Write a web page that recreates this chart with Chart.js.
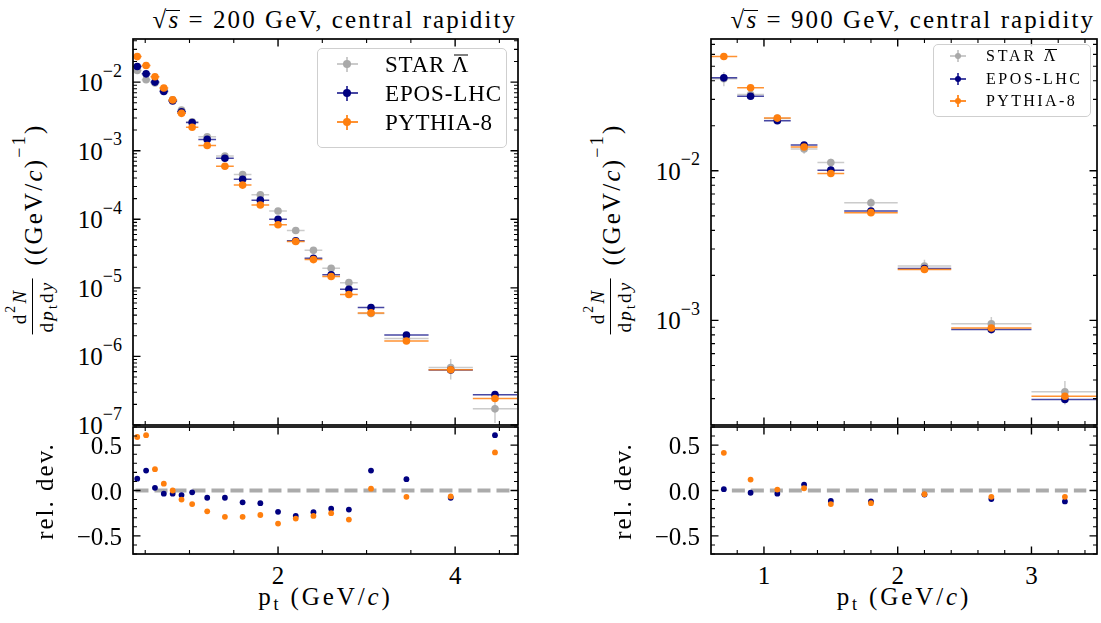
<!DOCTYPE html>
<html>
<head>
<meta charset="utf-8">
<script src="https://cdn.jsdelivr.net/npm/chart.js"></script>
<style>
  body { margin: 0; background: #fff; }
  #fig { position: relative; width: 1101px; height: 623px; overflow: hidden; background: #fff; }
  #fig canvas { position: absolute; }
  .t { position: absolute; white-space: nowrap; line-height: 1; font-size: 25px; color: #000;
       font-family: "Liberation Serif", "Times New Roman", serif; }
  .t sup { font-size: 0.72em; position: relative; top: -0.8em; vertical-align: baseline; line-height: 0; }
  .t sub { font-size: 0.72em; position: relative; top: 0.3em; vertical-align: baseline; line-height: 0; }
  .ovl { position: relative; }
  .ovl::before { content: ''; position: absolute; left: 10%; right: 10%; top: 0.12em; border-top: 1.2px solid #000; }
  .ovs { position: relative; font-style: italic; }
  .ovs::before { content: ''; position: absolute; left: -2px; right: 0; top: 0.14em; border-top: 1.3px solid #000; }
  .frac { display: inline-flex; flex-direction: column; align-items: stretch; text-align: center;
          vertical-align: middle; font-size: 19px; margin-right: 13px; }
  .frac .num { padding: 0 2px 3px; border-bottom: 1.6px solid #000; }
  .frac .den { padding: 4px 2px 0; }
  .lgbox { position: absolute; border: 1.6px solid #cfcfcf; border-radius: 5px; background: rgba(255,255,255,0.85); box-sizing: border-box; }
  .mk { position: absolute; }
  .mk div { position: absolute; }
</style>
</head>
<body>
<div id="fig"></div>
<script>
// sqrt(s) = 200 GeV
const ptL = [0.41, 0.51, 0.61, 0.71, 0.81, 0.91, 1.03, 1.2, 1.4, 1.6, 1.8, 2.0, 2.2, 2.4, 2.6, 2.8, 3.05, 3.45, 3.95, 4.45];
const binLoL = [0.36, 0.46, 0.56, 0.66, 0.76, 0.86, 0.96, 1.1, 1.3, 1.5, 1.7, 1.9, 2.1, 2.3, 2.5, 2.7, 2.9, 3.2, 3.7, 4.2];
const binHiL = [0.46, 0.56, 0.66, 0.76, 0.86, 0.96, 1.1, 1.3, 1.5, 1.7, 1.9, 2.1, 2.3, 2.5, 2.7, 2.9, 3.2, 3.7, 4.2, 4.7];
const starL = [0.01475, 0.0108, 0.0097, 0.00758, 0.0055, 0.0039, 0.00263, 0.0016, 0.000837, 0.000449, 0.000228, 0.000132,
               6.86e-5, 3.52e-5, 1.93e-5, 1.19e-5, 4.22e-6, 1.82e-6, 6.9e-7, 1.72e-7];
const eposL = [0.01687, 0.0132, 0.0100, 0.00732, 0.0053, 0.0037, 0.00258, 0.00146, 0.000775, 0.000384, 0.00019, 0.0001,
               4.85e-5, 2.7e-5, 1.55e-5, 9.5e-6, 5.15e-6, 2.05e-6, 6.35e-7, 2.77e-7];
const pythiaL = [0.02355, 0.01746, 0.01195, 0.00819, 0.0055, 0.0035, 0.0022, 0.00119, 0.000593, 0.000315, 0.000161, 8.3e-5,
                 4.75e-5, 2.58e-5, 1.46e-5, 8.0e-6, 4.31e-6, 1.68e-6, 6.38e-7, 2.43e-7];
const starErrL = [0.1, 0.08, 0.07, 0.06, 0.06, 0.06, 0.06, 0.06, 0.06, 0.06, 0.07, 0.07, 0.08, 0.08, 0.09, 0.1, 0.12, 0.15, 0.33, 0.38];
const eposErrL = [0.02, 0.02, 0.02, 0.02, 0.02, 0.02, 0.02, 0.02, 0.02, 0.02, 0.02, 0.03, 0.03, 0.03, 0.03, 0.04, 0.04, 0.05, 0.06, 0.08];
const pythiaErrL = [0.02, 0.02, 0.02, 0.02, 0.02, 0.02, 0.02, 0.02, 0.02, 0.02, 0.02, 0.03, 0.03, 0.03, 0.03, 0.04, 0.04, 0.05, 0.06, 0.08];
const eposRelL = [0.13, 0.22, 0.03, -0.035, -0.035, -0.05, -0.02, -0.08, -0.08, -0.13, -0.14, -0.235, -0.28, -0.24, -0.2, -0.21, 0.22, 0.125, -0.08, 0.61];
const pythiaRelL = [0.59, 0.61, 0.235, 0.075, 0.0, -0.1, -0.15, -0.23, -0.29, -0.29, -0.27, -0.365, -0.31, -0.28, -0.25, -0.32, 0.02, -0.07, -0.065, 0.42];
const zeroL = [0.39, 4.67];
const xRangeL = [0.362, 4.71];
const yRangeL = [1e-7, 0.0425];
const xMajorL = [2, 4];
const xMinorL = [0.5, 1, 1.5, 2.5, 3, 3.5, 4.5];

// sqrt(s) = 900 GeV
const ptR = [0.7, 0.9, 1.1, 1.3, 1.5, 1.8, 2.2, 2.7, 3.25];
const binLoR = [0.6, 0.8, 1.0, 1.2, 1.4, 1.6, 2.0, 2.4, 3.0];
const binHiR = [0.8, 1.0, 1.2, 1.4, 1.6, 2.0, 2.4, 3.0, 3.5];
const starR = [0.0412, 0.0323, 0.0224, 0.0140, 0.01135, 0.00611, 0.00231, 0.000951, 0.000334];
const eposR = [0.0418, 0.0315, 0.0216, 0.01486, 0.0101, 0.00538, 0.00222, 0.000868, 0.000296];
const pythiaR = [0.0581, 0.0359, 0.0225, 0.01442, 0.0096, 0.00525, 0.00219, 0.00089, 0.000311];
const starErrR = [0.11, 0.06, 0.05, 0.07, 0.06, 0.07, 0.1, 0.11, 0.18];
const eposErrR = [0.03, 0.02, 0.02, 0.02, 0.02, 0.02, 0.02, 0.03, 0.03];
const pythiaErrR = [0.02, 0.02, 0.02, 0.02, 0.02, 0.02, 0.02, 0.03, 0.03];
const eposRelR = [0.015, -0.025, -0.035, 0.065, -0.115, -0.12, -0.045, -0.095, -0.12];
const pythiaRelR = [0.415, 0.12, 0.01, 0.025, -0.15, -0.14, -0.04, -0.07, -0.07];
const zeroR = [0.76, 3.41];
const xRangeR = [0.604, 3.49];
const yRangeR = [2.0e-4, 0.076];
const xMajorR = [1, 2, 3];
const xMinorR = [0.8, 1.2, 1.4, 1.6, 1.8, 2.2, 2.4, 2.6, 2.8, 3.2, 3.4];

const relRange = [-0.7, 0.7];
const relMajor = [-0.5, 0, 0.5];
const seriesNames = ['STAR <span class="ovl">\u039B</span>', 'EPOS-LHC', 'PYTHIA-8'];

const STYLE = {
  marker: ['#a9a9a9', '#000080', '#ff7f0e'],
  bar: ['rgba(169,169,169,0.6)', 'rgba(0,0,128,0.72)', 'rgba(255,127,14,0.85)']
};
const PAD = 3;
const fig = document.getElementById('fig');

function logTicks(min, max) {
  const major = [], minor = [];
  for (let d = Math.floor(Math.log10(min)); d <= Math.ceil(Math.log10(max)); d++) {
    for (let m = 1; m < 10; m++) {
      const v = m * Math.pow(10, d);
      if (v < min * 0.999 || v > max * 1.001) continue;
      (m === 1 ? major : minor).push(v);
    }
  }
  return { major, minor };
}
function relMinor() {
  const out = [];
  for (let k = -7; k <= 7; k++) if (k % 5 !== 0) out.push(k / 10);
  return out;
}

// frame, inward ticks on every side, and error bars
const axesFrame = {
  id: 'axesFrame',
  beforeDatasetDraw(chart, args) {
    const ds = chart.data.datasets[args.index];
    if (!ds.xLo) return;
    const { ctx, chartArea: a, scales: { x, y } } = chart;
    ctx.save();
    ctx.beginPath();
    ctx.rect(a.left, a.top, a.right - a.left, a.bottom - a.top);
    ctx.clip();
    ctx.strokeStyle = ds.barColor;
    ctx.lineWidth = 1.5;
    ds.data.forEach((p, i) => {
      const px = x.getPixelForValue(p.x), py = y.getPixelForValue(p.y);
      ctx.beginPath();
      ctx.moveTo(x.getPixelForValue(ds.xLo[i]), py);
      ctx.lineTo(x.getPixelForValue(ds.xHi[i]), py);
      ctx.moveTo(px, y.getPixelForValue(ds.yLo[i]));
      ctx.lineTo(px, y.getPixelForValue(ds.yHi[i]));
      ctx.stroke();
    });
    ctx.restore();
  },
  afterDraw(chart, args, opts) {
    const { ctx, chartArea: a, scales: { x, y } } = chart;
    ctx.save();
    ctx.strokeStyle = '#000';
    const xt = (vals, len, w) => {
      ctx.lineWidth = w;
      ctx.beginPath();
      vals.forEach(v => {
        const p = x.getPixelForValue(v);
        ctx.moveTo(p, a.bottom); ctx.lineTo(p, a.bottom - len);
        ctx.moveTo(p, a.top); ctx.lineTo(p, a.top + len);
      });
      ctx.stroke();
    };
    const yt = (vals, len, w) => {
      ctx.lineWidth = w;
      ctx.beginPath();
      vals.forEach(v => {
        const p = y.getPixelForValue(v);
        ctx.moveTo(a.left, p); ctx.lineTo(a.left + len, p);
        ctx.moveTo(a.right, p); ctx.lineTo(a.right - len, p);
      });
      ctx.stroke();
    };
    xt(opts.xMajor, 7.5, 1.4);
    xt(opts.xMinor, 4, 1.1);
    yt(opts.yMajor, 7.5, 1.4);
    yt(opts.yMinor, 4, 1.1);
    ctx.lineWidth = 1.7;
    ctx.strokeRect(a.left, a.top, a.right - a.left, a.bottom - a.top);
    ctx.restore();
  }
};

function makePanel(x0, x1, y0, y1, datasets, xr, yr, yType, ticks) {
  const W = x1 - x0 + 2 * PAD, H = y1 - y0 + 2 * PAD;
  const cv = document.createElement('canvas');
  cv.width = W; cv.height = H;
  cv.style.left = (x0 - PAD) + 'px';
  cv.style.top = (y0 - PAD) + 'px';
  fig.appendChild(cv);
  const chart = new Chart(cv, {
    type: 'scatter',
    data: { datasets },
    options: {
      responsive: false,
      animation: false,
      events: [],
      layout: { padding: PAD },
      scales: {
        x: { type: 'linear', min: xr[0], max: xr[1], display: false },
        y: { type: yType, min: yr[0], max: yr[1], display: false }
      },
      plugins: { legend: { display: false }, tooltip: { enabled: false }, axesFrame: ticks }
    },
    plugins: [axesFrame]
  });
  chart.offX = x0 - PAD;
  chart.offY = y0 - PAD;
  return chart;
}

function mainSets(pt, lo, hi, series, errs) {
  return series.map((vals, k) => ({
    data: pt.map((x, i) => ({ x, y: vals[i] })),
    order: 3 - k,
    clip: 0,
    pointRadius: 3.8,
    pointBackgroundColor: STYLE.marker[k],
    pointBorderWidth: 0,
    xLo: lo, xHi: hi,
    yLo: vals.map((v, i) => v * (1 - errs[k][i])),
    yHi: vals.map((v, i) => v * (1 + errs[k][i])),
    barColor: STYLE.bar[k]
  }));
}
function relSets(pt, rels, zero) {
  const sets = rels.map((vals, j) => ({
    data: pt.map((x, i) => ({ x, y: vals[i] })),
    order: 2 - j,
    clip: 0,
    pointRadius: 2.9,
    pointBackgroundColor: STYLE.marker[j + 1],
    pointBorderWidth: 0
  }));
  sets.push({
    data: zero.map(x => ({ x, y: 0 })),
    showLine: true, order: 10, clip: 0,
    borderColor: '#ababab', borderWidth: 4, borderDash: [13, 6], borderCapStyle: 'butt',
    pointRadius: 0
  });
  return sets;
}

function text(html, x, y, transform, css) {
  const d = document.createElement('div');
  d.className = 't';
  d.innerHTML = html;
  d.style.left = x + 'px';
  d.style.top = y + 'px';
  if (css) Object.assign(d.style, css);
  d.style.transform = transform || '';
  fig.appendChild(d);
  return d;
}
// spread the letters so the label reaches the width it has in the reference
function spread(el, target) {
  const w = el.offsetWidth;
  const n = el.textContent.length;
  el.style.letterSpacing = ((target - w) / n).toFixed(2) + 'px';
}

const sup = e => '10<sup>\u2212' + Math.abs(e) + '</sup>';
const fmtRel = v => (v < 0 ? '\u2212' : '') + Math.abs(v).toFixed(1);

function drawSide(side) {
  const L = side === 'L';
  const x0 = L ? 132 : 710, x1 = L ? 519 : 1098;
  const pt = L ? ptL : ptR;
  const xr = L ? xRangeL : xRangeR;
  const yr = L ? yRangeL : yRangeR;
  const xMajor = L ? xMajorL : xMajorR, xMinor = L ? xMinorL : xMinorR;
  const lt = logTicks(yr[0], yr[1]);

  const main = makePanel(x0, x1, 38, 426,
    mainSets(pt, L ? binLoL : binLoR, L ? binHiL : binHiR,
      L ? [starL, eposL, pythiaL] : [starR, eposR, pythiaR],
      L ? [starErrL, eposErrL, pythiaErrL] : [starErrR, eposErrR, pythiaErrR]),
    xr, yr, 'logarithmic',
    { xMajor, xMinor, yMajor: lt.major, yMinor: lt.minor });

  const rel = makePanel(x0, x1, 426, 555,
    relSets(pt, L ? [eposRelL, pythiaRelL] : [eposRelR, pythiaRelR], L ? zeroL : zeroR),
    xr, relRange, 'linear',
    { xMajor, xMinor, yMajor: relMajor, yMinor: relMinor() });

  // tick labels
  lt.major.forEach(v => {
    text(sup(Math.round(Math.log10(v))), x0 - 10, main.offY + main.scales.y.getPixelForValue(v), 'translate(-100%,-50%)');
  });
  relMajor.forEach(v => {
    text(fmtRel(v), x0 - 10, rel.offY + rel.scales.y.getPixelForValue(v), 'translate(-100%,-50%)');
  });
  xMajor.forEach(v => {
    text(String(v), rel.offX + rel.scales.x.getPixelForValue(v), 575, 'translate(-50%,-50%)');
  });

  // axis titles
  const cx = (x0 + x1) / 2;
  const xt = text('p<sub>t</sub>&nbsp;(GeV/<i>c</i>)', cx, 596, 'translate(-50%,-50%)');
  spread(xt, 135);
  const rt = text('rel.&nbsp;dev.', x0 - 88, 491, 'translate(-50%,-50%) rotate(-90deg)');
  spread(rt, 98);
  const yl = text('<span class="frac"><span class="num">d<sup>2</sup><i>N</i></span>' +
    '<span class="den">d<i>p</i><sub>t</sub>d<i>y</i></span></span>((GeV/<i>c</i>)<sup>\u22121</sup>)',
    x0 - 99, 229, 'translate(-50%,-50%) rotate(-90deg)', { display: 'flex', alignItems: 'center' });
  spread(yl, 217);

  // title
  const tt = text('\u221A<span class="ovs">s</span> = ' + (L ? '200' : '900') + ' GeV, central rapidity',
    0, 7, '', { right: (1101 - (L ? 517 : 1095)) + 'px', left: 'auto' });
  spread(tt, 364);
}

function legend(bx0, bx1, by0, by1, rows, mx, tx, fs, cw, ch, r, widths) {
  const box = document.createElement('div');
  box.className = 'lgbox';
  Object.assign(box.style, { left: bx0 + 'px', top: by0 + 'px', width: (bx1 - bx0) + 'px', height: (by1 - by0) + 'px' });
  fig.appendChild(box);
  seriesNames.forEach((name, k) => {
    const y = rows[k];
    const m = document.createElement('div');
    m.className = 'mk';
    Object.assign(m.style, { left: (mx - cw / 2) + 'px', top: (y - ch / 2) + 'px', width: cw + 'px', height: ch + 'px' });
    m.innerHTML =
      '<div style="left:0;top:' + (ch / 2 - 0.75) + 'px;width:' + cw + 'px;height:1.5px;background:' + STYLE.bar[k] + '"></div>' +
      '<div style="left:' + (cw / 2 - 0.75) + 'px;top:0;width:1.5px;height:' + ch + 'px;background:' + STYLE.bar[k] + '"></div>' +
      '<div style="left:' + (cw / 2 - r) + 'px;top:' + (ch / 2 - r) + 'px;width:' + (2 * r) + 'px;height:' + (2 * r) + 'px;border-radius:50%;background:' + STYLE.marker[k] + '"></div>';
    fig.appendChild(m);
    const t = text(name, tx, y, 'translateY(-50%)', { fontSize: fs + 'px' });
    spread(t, widths[k]);
  });
}

drawSide('L');
drawSide('R');
legend(317, 507, 48, 148, [64, 93, 122], 347, 385, 23, 21, 15, 4, [84, 117, 108]);
legend(933, 1091, 44, 117, [56, 79, 101], 958, 986, 16, 16, 12, 3.3, [72, 96, 91]);
</script>
</body>
</html>
